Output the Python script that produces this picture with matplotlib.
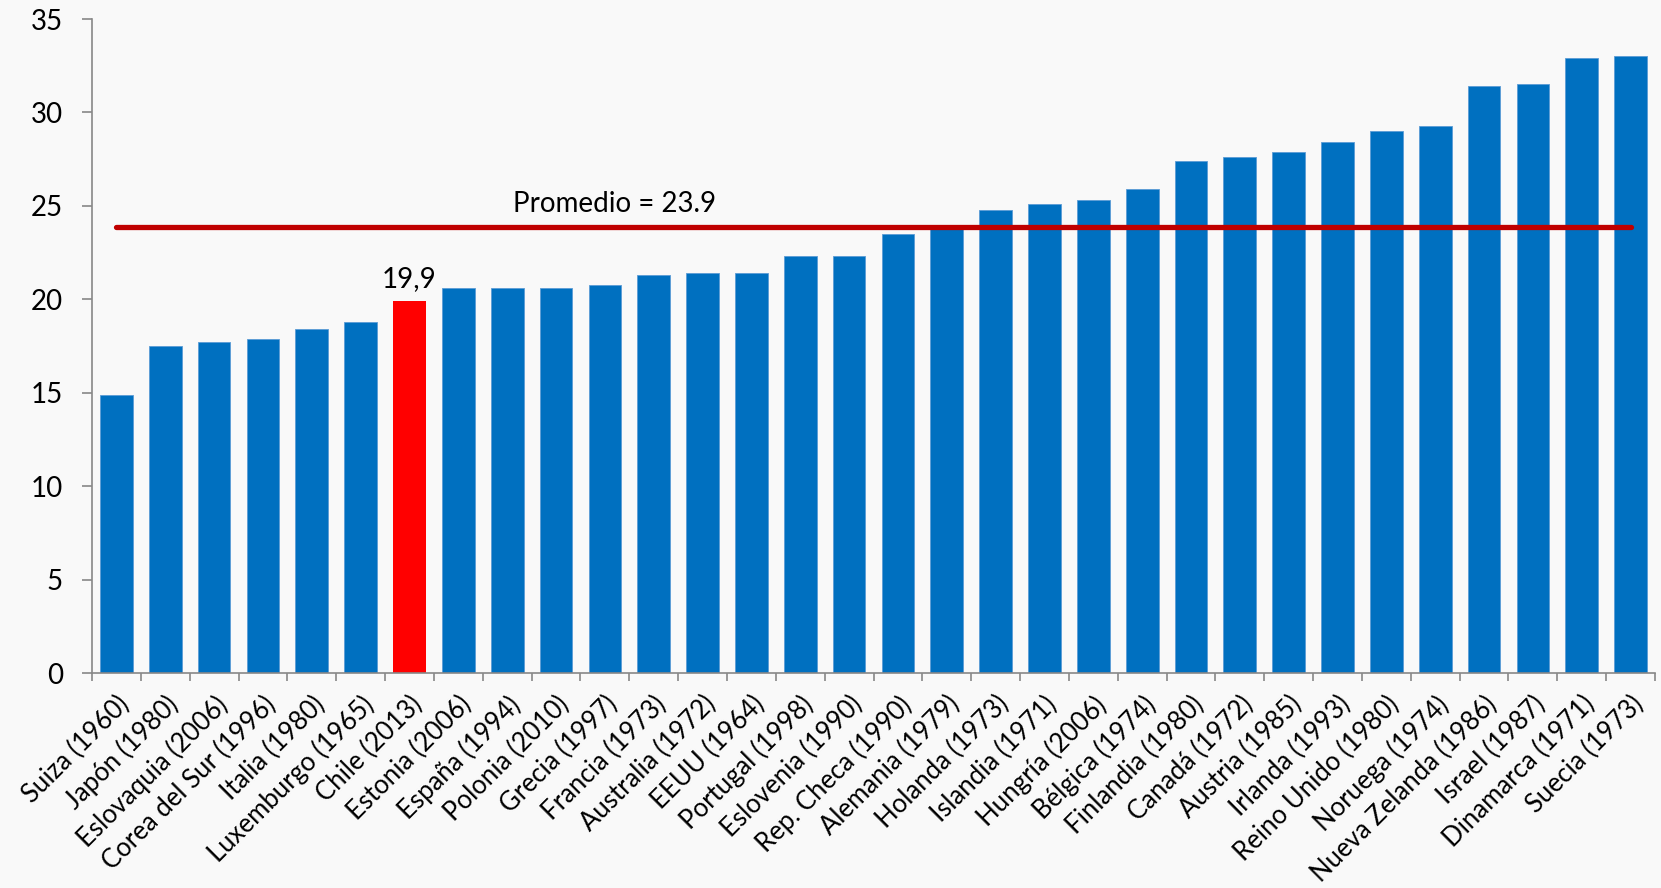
import matplotlib
matplotlib.use("Agg")
import matplotlib.pyplot as plt
import numpy as np

paises = ["Suiza (1960)", "Japón (1980)", "Eslovaquia (2006)", "Corea del Sur (1996)",
          "Italia (1980)", "Luxemburgo (1965)", "Chile (2013)", "Estonia (2006)",
          "España (1994)", "Polonia (2010)", "Grecia (1997)", "Francia (1973)",
          "Australia (1972)", "EEUU (1964)", "Portugal (1998)", "Eslovenia (1990)",
          "Rep. Checa (1990)", "Alemania (1979)", "Holanda (1973)", "Islandia (1971)",
          "Hungría (2006)", "Bélgica (1974)", "Finlandia (1980)", "Canadá (1972)",
          "Austria (1985)", "Irlanda (1993)", "Reino Unido (1980)", "Noruega (1974)",
          "Nueva Zelanda (1986)", "Israel (1987)", "Dinamarca (1971)", "Suecia (1973)"]
valores = [14.9, 17.5, 17.7, 17.9, 18.4, 18.8, 19.9, 20.6,
           20.6, 20.6, 20.8, 21.3, 21.4, 21.4, 22.3, 22.3,
           23.5, 23.8, 24.8, 25.1, 25.3, 25.9, 27.4, 27.6,
           27.9, 28.4, 29.0, 29.3, 31.4, 31.5, 32.9, 33.0]
destacado = "Chile (2013)"
promedio = 23.9

plt.rcParams["font.family"] = ["Lato", "DejaVu Sans"]

BG = "#F9F9F9"
AZUL = "#0070C0"
ROJO = "#FF0000"
LINEA = "#C00000"
GRIS = "#888888"

fig = plt.figure(figsize=(16.61, 8.88), dpi=100, facecolor=BG)
ax = fig.add_axes([0.0554, 0.2416, 0.941, 0.737])
ax.set_facecolor(BG)

x = np.arange(len(paises))
colores = [ROJO if p == destacado else AZUL for p in paises]
bordes = ["none" if p == destacado else "#5B9BD5" for p in paises]
ax.bar(x, valores, width=0.67, color=colores, edgecolor=bordes, linewidth=0.6, zorder=2)

# linea del promedio, de centro a centro
ax.plot([x[0], x[-1]], [promedio, promedio], color=LINEA, lw=3.8,
        solid_capstyle="round", zorder=3)
ax.text(10.19, 24.7, f"Promedio = {promedio}", ha="center", va="baseline",
        fontsize=20, color="black")

i = paises.index(destacado)
ax.annotate(f"{valores[i]:.1f}".replace(".", ","), (x[i], valores[i]),
            xytext=(0, 10), textcoords="offset points", ha="center", va="baseline",
            fontsize=20)

ax.set_xlim(-0.5, len(paises) - 0.5)
ax.set_ylim(0, 35)
ax.set_yticks(np.arange(0, 36, 5))
ax.tick_params(axis="y", labelsize=20, length=7, width=1.2, color=GRIS, pad=14)

ax.set_xticks(x)
ax.set_xticklabels(paises, rotation=45, ha="right", rotation_mode="anchor", fontsize=18.5)
ax.tick_params(axis="x", which="major", length=0, pad=13)
ax.set_xticks(np.arange(-0.5, len(paises)), minor=True)
ax.tick_params(axis="x", which="minor", length=6, width=1.2, color=GRIS)

for s in ["top", "right"]:
    ax.spines[s].set_visible(False)
for s in ["left", "bottom"]:
    ax.spines[s].set_color(GRIS)
    ax.spines[s].set_linewidth(1.2)

fig.savefig("out.png", dpi=100, facecolor=BG)
